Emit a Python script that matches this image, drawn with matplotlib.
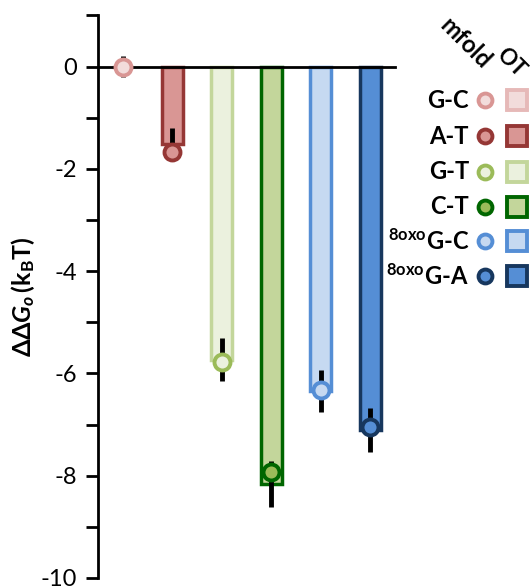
import matplotlib
matplotlib.use("Agg")
import matplotlib.pyplot as plt
from matplotlib.ticker import MultipleLocator

plt.rcParams["font.family"] = ["Lato", "DejaVu Sans"]
plt.rcParams["axes.unicode_minus"] = False
plt.rcParams["mathtext.fontset"] = "custom"
plt.rcParams["mathtext.rm"] = "Lato:bold"
plt.rcParams["mathtext.bf"] = "Lato:bold"
plt.rcParams["mathtext.it"] = "Lato:bold:italic"

# ── data ────────────────────────────────────────────────────────────────
pairs = ["G-C", "A-T", "G-T", "C-T", r"$^{\mathrm{8oxo}}$G-C", r"$^{\mathrm{8oxo}}$G-A"]
ot_vals = [0.0, -1.51, -5.73, -8.16, -6.35, -7.10]
ot_err = [0.21, 0.30, 0.42, 0.45, 0.41, 0.43]
mfold_vals = [0.0, -1.67, -5.78, -7.92, -6.33, -7.04]

bar_face = ["#F2DCDB", "#D99694", "#EBF1DE", "#C3D69B", "#C6D9F1", "#558ED5"]
bar_edge = ["#E6B9B8", "#953735", "#C3D69B", "#006600", "#558ED5", "#17375E"]
dot_face = ["#F2DCDB", "#D99694", "#EBF1DE", "#9BBB59", "#C6D9F1", "#558ED5"]
dot_edge = ["#D99694", "#953735", "#9BBB59", "#006600", "#558ED5", "#17375E"]

# ── figure ──────────────────────────────────────────────────────────────
fig = plt.figure(figsize=(5.30, 5.86), dpi=100)
ax = fig.add_axes([0.185, 0.0137, 0.56, 0.96])

x = list(range(len(pairs)))
ax.bar(x, ot_vals, width=0.42, color=bar_face, edgecolor=bar_edge,
       linewidth=2.5, zorder=2)
ax.errorbar(x, ot_vals, yerr=ot_err, fmt="none", ecolor="black",
            elinewidth=3.5, capsize=0, zorder=3)
for xi, v, fc, ec in zip(x, mfold_vals, dot_face, dot_edge):
    ax.plot(xi, v, "o", ms=11.5, mfc=fc, mec=ec, mew=2.8, zorder=4)

ax.set_xlim(-0.5, 5.5)
ax.set_ylim(-10, 1)
ax.spines["top"].set_visible(False)
ax.spines["right"].set_visible(False)
ax.spines["bottom"].set_position(("data", 0))
ax.spines["bottom"].set_linewidth(2)
ax.spines["left"].set_linewidth(2)
ax.set_xticks([])
ax.yaxis.set_major_locator(MultipleLocator(2))
ax.yaxis.set_minor_locator(MultipleLocator(1))
ax.tick_params(axis="y", which="both", direction="out", length=9, width=2,
               labelsize=17, pad=6)
ax.set_ylabel(r"$\mathrm{\Delta\Delta}\mathit{G}_{\mathit{o}}\,\mathrm{(k_{B}T)}$",
              fontsize=18, labelpad=3)

# ── legend (hand-built) ─────────────────────────────────────────────────
fig.text(436 / 530, 1 - 14 / 586, "mfold", rotation=-45, fontsize=17,
         fontweight="bold", ha="left", va="top")
fig.text(492 / 530, 1 - 44 / 586, "OT", rotation=-45, fontsize=16,
         fontweight="bold", ha="left", va="top")
row_y = [100, 136, 172, 207, 241, 276]
for lab, yy, bf, be, df, de in zip(pairs, row_y, bar_face, bar_edge,
                                   dot_face, dot_edge):
    fy = 1 - yy / 586
    fig.text(469 / 530, fy, lab, fontsize=17, fontweight="bold",
             ha="right", va="center")
    fig.lines.append(plt.Line2D([485 / 530], [fy], marker="o", ms=10,
                                mfc=df, mec=de, mew=2.8,
                                transform=fig.transFigure))
    fig.lines.append(plt.Line2D([517 / 530], [fy], marker="s", ms=15,
                                mfc=bf, mec=be, mew=2.8,
                                transform=fig.transFigure))

fig.savefig("out.png", dpi=100)
